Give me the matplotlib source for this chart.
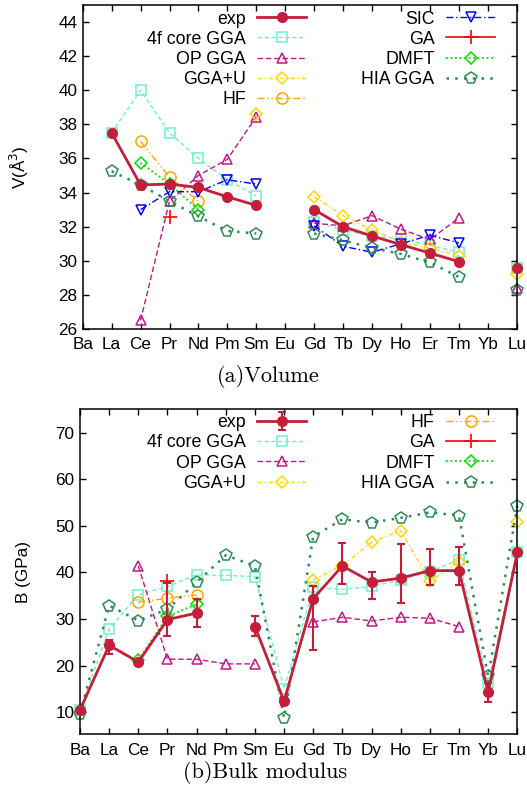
import numpy as np
import matplotlib
matplotlib.use("Agg")
import matplotlib.pyplot as plt

nan = np.nan
elements = ["Ba", "La", "Ce", "Pr", "Nd", "Pm", "Sm", "Eu",
            "Gd", "Tb", "Dy", "Ho", "Er", "Tm", "Yb", "Lu"]

# (a) volume, A^3
vol_exp  = [nan, 37.5, 34.45, 34.5, 34.3, 33.75, 33.25, nan, 33.0, 32.0, 31.45, 30.95, 30.45, 29.95, nan, 29.55]
vol_4f   = [nan, 37.5, 40.0, 37.5, 36.0, 34.75, 33.8, nan, 32.3, 31.8, 31.45, 31.3, 30.9, 30.5, nan, 29.6]
vol_op   = [nan, nan, 26.5, 33.5, 35.0, 35.95, 38.45, nan, 32.2, 32.05, 32.65, 31.85, 31.25, 32.5, nan, 28.4]
vol_ggau = [nan, nan, nan, nan, nan, nan, 38.6, nan, 33.75, 32.65, 31.8, 31.1, 30.75, 30.3, nan, 29.2]
vol_hf   = [nan, nan, 37.0, 34.9, 33.5, nan, nan, nan, nan, nan, nan, nan, nan, nan, nan, nan]
vol_sic  = [nan, nan, 33.0, 34.05, 34.05, 34.75, 34.5, nan, 32.05, 30.85, 30.5, 31.0, 31.5, 31.05, nan, nan]
vol_ga   = [nan, nan, nan, 32.55, nan, nan, nan, nan, nan, nan, nan, nan, nan, nan, nan, nan]
vol_dmft = [nan, nan, 35.75, 34.5, 33.0, nan, nan, nan, nan, nan, nan, nan, nan, nan, nan, nan]
vol_hia  = [nan, 35.25, 34.45, 33.5, 32.6, 31.75, 31.6, nan, 31.6, 31.2, 30.75, 30.4, 29.9, 29.05, nan, 28.3]

# (b) bulk modulus, GPa
bm_exp  = [10.5, 24.4, 20.8, 29.9, 31.3, nan, 28.4, 12.4, 34.4, 41.4, 37.95, 38.8, 40.4, 40.4, 14.3, 44.3]
bm_lo   = [10.0, 22.5, 20.3, 26.3, 28.3, nan, 26.3, 11.6, 23.3, 37.6, 34.3, 33.4, 37.4, 37.4, 12.2, 43.8]
bm_hi   = [11.0, 25.6, 21.3, 37.7, 34.3, nan, 30.6, 13.2, 37.0, 46.3, 40.1, 46.2, 45.1, 45.4, 16.4, 44.8]
bm_4f   = [10.5, 27.9, 35.2, 37.0, 39.5, 39.4, 39.1, 15.1, 36.8, 36.4, 37.0, 38.4, 40.2, 42.7, 16.2, 44.3]
bm_op   = [nan, nan, 41.4, 21.4, 21.4, 20.4, 20.4, nan, 29.4, 30.4, 29.6, 30.4, 30.2, 28.4, nan, nan]
bm_ggau = [nan, nan, nan, nan, nan, nan, nan, nan, 38.4, 41.5, 46.5, 49.0, 38.1, 42.3, nan, 50.8]
bm_hf   = [nan, nan, 33.6, 34.5, 35.2, nan, nan, nan, nan, nan, nan, nan, nan, nan, nan, nan]
bm_ga   = [nan, nan, nan, 38.1, nan, nan, nan, nan, nan, nan, nan, nan, nan, nan, nan, nan]
bm_dmft = [nan, nan, 21.2, 30.6, 33.2, nan, nan, nan, nan, nan, nan, nan, nan, nan, nan, nan]
bm_hia  = [9.7, 32.9, 29.7, 32.1, 37.9, 43.7, 41.4, 8.8, 47.7, 51.4, 50.7, 51.7, 52.9, 52.2, 17.7, 54.3]

C_EXP, C_4F, C_OP, C_GGAU = "#c41e3a", "#6ff0c8", "#c71585", "#ffd700"
C_HF, C_SIC, C_GA, C_DMFT, C_HIA = "#ffa500", "#0000ff", "#ff0000", "#00e000", "#2e8b57"

plt.rcParams["font.family"] = ["Liberation Sans", "DejaVu Sans"]

STY = {
    "4f":   dict(color=C_4F, ls=(0, (3, 2)), lw=1.0, marker="s", ms=7, mfc="none", mew=1.1),
    "op":   dict(color=C_OP, ls=(0, (4, 2)), lw=1.0, marker="^", ms=7.5, mfc="none", mew=1.1),
    "ggau": dict(color=C_GGAU, ls=(0, (3, 2, 1, 2)), lw=1.0, marker="D", ms=6, mfc="none", mew=1.1),
    "hf":   dict(color=C_HF, ls=(0, (5, 2, 1, 2, 1, 2)), lw=1.0, marker="o", ms=8, mfc="none", mew=1.1),
    "sic":  dict(color=C_SIC, ls=(0, (5, 2, 1, 2)), lw=1.0, marker="v", ms=7.5, mfc="none", mew=1.1),
    "ga":   dict(color=C_GA, ls="-", lw=1.2, marker="+", ms=10, mew=1.2),
    "dmft": dict(color=C_DMFT, ls=(0, (1, 1.5)), lw=1.3, marker="D", ms=6, mfc="none", mew=1.1),
    "hia":  dict(color=C_HIA, ls=(0, (1, 2.5)), lw=1.8, marker="p", ms=8.5, mfc="none", mew=1.1),
}

x = np.arange(len(elements))
fig = plt.figure(figsize=(5.27, 8.0), dpi=100)
ax1 = fig.add_axes([82.7 / 527, 1 - 329 / 800, 434 / 527, 324 / 800])
ax2 = fig.add_axes([80 / 527, 1 - 734.3 / 800, 437.3 / 527, 325 / 800])


def style_axes(ax, ylim, yticks):
    ax.set_xlim(0, 15)
    ax.set_ylim(*ylim)
    ax.set_yticks(yticks)
    ax.set_xticks(x)
    ax.set_xticklabels(elements)
    ax.tick_params(direction="in", top=True, right=True, length=4.5, width=1,
                   labelsize=12.3, pad=4)
    ax.tick_params(axis="x", pad=6)
    for s in ax.spines.values():
        s.set_linewidth(1.1)


def ordered_legend(ax, order, anchor):
    h, l = ax.get_legend_handles_labels()
    d = dict(zip(l, h))
    ax.legend([d[k] for k in order], order, ncol=2, markerfirst=False, frameon=False,
              fontsize=12.8, handlelength=2.75, handletextpad=0.65, columnspacing=3.1,
              labelspacing=0.18, borderpad=0, borderaxespad=0, loc="upper right",
              bbox_to_anchor=anchor)


# top panel
ax1.plot(x, vol_exp, color=C_EXP, lw=2, marker="o", ms=7, label="exp", clip_on=False, zorder=5)
ax1.plot(x, vol_4f, label="4f core GGA", clip_on=False, **STY["4f"])
ax1.plot(x, vol_op, label="OP GGA", clip_on=False, **STY["op"])
ax1.plot(x, vol_ggau, label="GGA+U", clip_on=False, **STY["ggau"])
ax1.plot(x, vol_hf, label="HF", clip_on=False, **STY["hf"])
ax1.plot(x, vol_sic, label="SIC", clip_on=False, **STY["sic"])
ax1.plot(x, vol_ga, label="GA", clip_on=False, **STY["ga"])
ax1.plot(x, vol_dmft, label="DMFT", clip_on=False, **STY["dmft"])
ax1.plot(x, vol_hia, label="HIA GGA", clip_on=False, **STY["hia"])
style_axes(ax1, (26, 45), np.arange(26, 45, 2))
ax1.set_ylabel("V(Å$^3$)", fontsize=12.3)
ax1.yaxis.set_label_coords(-0.118, 0.5)
ordered_legend(ax1, ["exp", "4f core GGA", "OP GGA", "GGA+U", "HF",
                     "SIC", "GA", "DMFT", "HIA GGA"], (0.950, 0.983))

# bottom panel
ax2.errorbar(x, bm_exp, yerr=[np.array(bm_exp) - np.array(bm_lo), np.array(bm_hi) - np.array(bm_exp)],
             color=C_EXP, lw=2, marker="o", ms=7, elinewidth=1.5, capsize=3, capthick=1.5,
             label="exp", clip_on=False, zorder=5)
ax2.plot(x, bm_4f, label="4f core GGA", clip_on=False, **STY["4f"])
ax2.plot(x, bm_op, label="OP GGA", clip_on=False, **STY["op"])
ax2.plot(x, bm_ggau, label="GGA+U", clip_on=False, **STY["ggau"])
ax2.plot(x, bm_hf, label="HF", clip_on=False, **STY["hf"])
ax2.plot(x, bm_ga, label="GA", clip_on=False, **STY["ga"])
ax2.plot(x, bm_dmft, label="DMFT", clip_on=False, **STY["dmft"])
ax2.plot(x, bm_hia, label="HIA GGA", clip_on=False, **STY["hia"])
style_axes(ax2, (5.3, 75), np.arange(10, 71, 10))
ax2.set_ylabel("B (GPa)", fontsize=12.3)
ax2.yaxis.set_label_coords(-0.112, 0.5)
ordered_legend(ax2, ["exp", "4f core GGA", "OP GGA", "GGA+U",
                     "HF", "GA", "DMFT", "HIA GGA"], (0.949, 0.985))

fig.text(268 / 527, 1 - 377 / 800, "(a)Volume", family="cmr10", fontsize=16, ha="center", va="center")
fig.text(265 / 527, 1 - 773 / 800, "(b)Bulk modulus", family="cmr10", fontsize=16, ha="center", va="center")

fig.savefig("out.png", dpi=100)
